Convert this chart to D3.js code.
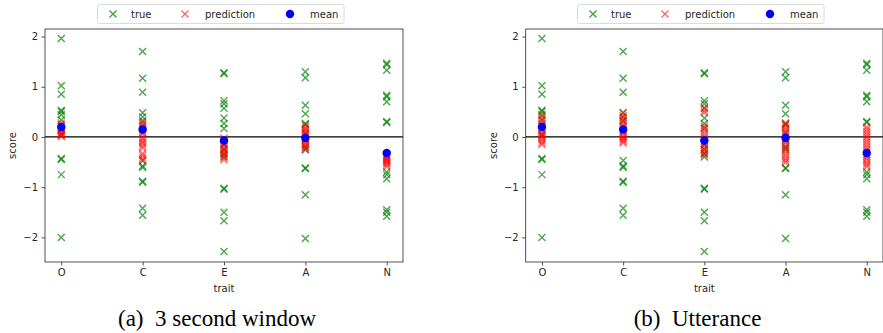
<!DOCTYPE html>
<html>
<head>
<meta charset="utf-8">
<script src="https://cdn.jsdelivr.net/npm/d3@7"></script>
<style>
  body { margin: 0; background: #fff; }
  svg { display: block; }
</style>
</head>
<body>
<svg id="chart" width="883" height="333"></svg>
<script>
// traits on the x axis
const traits = ["O", "C", "E", "A", "N"];
const yTicks = [-2, -1, 0, 1, 2];

// ground truth scores (same in both panels)
const trueO = [1.96, 1.02, 0.85, 0.53, 0.50, 0.44, 0.34, 0.05, -0.43, -0.45, -0.75, -2.0];
const trueC = [1.70, 1.17, 0.89, 0.48, 0.40, 0.33, -0.47, -0.58, -0.61, -0.88, -0.90, -1.42, -1.56];
const trueE = [1.28, 1.26, 0.72, 0.66, 0.57, 0.38, 0.27, 0.17, -0.15, -0.25, -0.33, -0.40, -1.02, -1.04, -1.50, -1.67, -2.28];
const trueA = [1.30, 1.18, 0.63, 0.46, 0.27, 0.25, 0.08, -0.05, -0.20, -0.25, -0.62, -0.63, -1.15, -2.02];
const trueN = [1.47, 1.44, 1.33, 0.83, 0.80, 0.70, 0.31, 0.29, -0.70, -0.75, -0.83, -1.45, -1.50, -1.58];

// (a) 3 second window predictions
const predWinO = [0.28, 0.25, 0.22, 0.19, 0.16, 0.14, 0.12, 0.10, 0.07, 0.05, 0.03, 0.01];
const predWinC = [0.30, 0.27, 0.24, 0.20, 0.16, 0.12, 0.08, 0.05, -0.02, -0.06, -0.10, -0.13, -0.18, -0.22, -0.33, -0.37, -0.42, -0.47];
const predWinE = [-0.02, -0.05, -0.08, -0.12, -0.15, -0.18, -0.22, -0.25, -0.28, -0.31, -0.35, -0.38, -0.42, -0.46];
const predWinA = [0.22, 0.18, 0.15, 0.12, 0.08, 0.05, 0.02, -0.02, -0.05, -0.08, -0.12, -0.15, -0.18, -0.22, -0.26];
const predWinN = [-0.36, -0.38, -0.40, -0.42, -0.44, -0.46, -0.48, -0.50, -0.53, -0.56, -0.60];

// (b) utterance predictions
const predUttO = [0.42, 0.38, 0.33, 0.28, 0.24, 0.20, 0.15, 0.12, 0.08, 0.05, 0.02, 0.00, -0.04, -0.08, -0.12, -0.15];
const predUttC = [0.48, 0.43, 0.38, 0.33, 0.30, 0.26, 0.22, 0.18, 0.12, 0.08, 0.03, 0.00, -0.03, -0.06, -0.09, -0.12];
const predUttE = [0.58, 0.52, 0.48, 0.22, 0.18, 0.12, 0.07, 0.02, -0.03, -0.08, -0.12, -0.17, -0.21, -0.25, -0.29, -0.33, -0.36];
const predUttA = [0.28, 0.23, 0.19, 0.14, 0.10, 0.05, 0.00, -0.05, -0.10, -0.15, -0.19, -0.23, -0.28, -0.33, -0.38, -0.43, -0.47, -0.51];
const predUttN = [0.20, 0.15, 0.10, 0.05, 0.00, -0.05, -0.10, -0.15, -0.20, -0.25, -0.30, -0.35, -0.39, -0.43, -0.47, -0.52, -0.56, -0.60];

// per-trait mean
const means = [0.20, 0.15, -0.07, -0.02, -0.32];

const trueAll = [trueO, trueC, trueE, trueA, trueN];
const predWin = [predWinO, predWinC, predWinE, predWinA, predWinN];
const predUtt = [predUttO, predUttC, predUttE, predUttA, predUttN];

const svg = d3.select("#chart");
const tickFont = "DejaVu Sans, sans-serif";

function flatten(groups) {
  const out = [];
  groups.forEach((g, i) => g.forEach(v => out.push({ i: i, v: v })));
  return out;
}

function crossPath(s) {
  return `M${-s},${-s}L${s},${s}M${-s},${s}L${s},${-s}`;
}

function drawPanel(left, right, preds, caption, captionX, legendX) {
  const top = 29, bottom = 262;
  const x = d3.scaleLinear().domain([-0.2, 4.2]).range([left, right]);
  const y = d3.scaleLinear().domain([-2.49, 2.15]).range([bottom, top]);

  const g = svg.append("g");

  // zero line
  g.append("line")
    .attr("x1", left).attr("x2", right)
    .attr("y1", y(0)).attr("y2", y(0))
    .attr("stroke", "#000").attr("stroke-width", 1.2);

  // true
  g.append("g").selectAll("path")
    .data(flatten(trueAll))
    .join("path")
    .attr("transform", d => `translate(${x(d.i)},${y(d.v)})`)
    .attr("d", crossPath(3.5))
    .attr("stroke", "green").attr("stroke-opacity", 0.7)
    .attr("stroke-width", 1.4).attr("fill", "none");

  // predictions
  g.append("g").selectAll("path")
    .data(flatten(preds))
    .join("path")
    .attr("transform", d => `translate(${x(d.i)},${y(d.v)})`)
    .attr("d", crossPath(3.5))
    .attr("stroke", "red").attr("stroke-opacity", 0.55)
    .attr("stroke-width", 1.4).attr("fill", "none");

  // means
  g.append("g").selectAll("circle")
    .data(means)
    .join("circle")
    .attr("cx", (d, i) => x(i)).attr("cy", d => y(d))
    .attr("r", 4.2).attr("fill", "blue");

  // axes
  const xAxis = g.append("g")
    .attr("transform", `translate(0,${bottom})`)
    .call(d3.axisBottom(x).tickValues(d3.range(traits.length)).tickFormat(i => traits[i]).tickSize(3.5).tickPadding(3.5));
  const yAxis = g.append("g")
    .attr("transform", `translate(${left},0)`)
    .call(d3.axisLeft(y).tickValues(yTicks).tickFormat(d => d < 0 ? "\u2212" + Math.abs(d) : d).tickSize(3.5).tickPadding(3.5));
  [xAxis, yAxis].forEach(a => {
    a.select(".domain").remove();
    a.selectAll("text").attr("font-family", tickFont).attr("font-size", 10).attr("fill", "#262626");
    a.selectAll("line").attr("stroke", "#262626").attr("stroke-width", 0.8);
  });

  // frame
  g.append("rect")
    .attr("x", left).attr("y", top)
    .attr("width", right - left).attr("height", bottom - top)
    .attr("fill", "none").attr("stroke", "#262626").attr("stroke-width", 0.8);

  // axis labels
  g.append("text")
    .attr("x", (left + right) / 2).attr("y", 292)
    .attr("text-anchor", "middle")
    .attr("font-family", tickFont).attr("font-size", 10).attr("fill", "#262626")
    .text("trait");
  g.append("text")
    .attr("transform", `translate(${left - 29},${(top + bottom) / 2}) rotate(-90)`)
    .attr("text-anchor", "middle")
    .attr("font-family", tickFont).attr("font-size", 10).attr("fill", "#262626")
    .text("score");

  // legend
  const lg = g.append("g").attr("transform", `translate(${legendX},4.5)`);
  lg.append("rect")
    .attr("width", 246.5).attr("height", 19).attr("rx", 2)
    .attr("fill", "#fff").attr("stroke", "#d0d0d0").attr("stroke-width", 0.8);
  const items = [
    { label: "true", color: "green", kind: "x", mx: 15.5, tx: 33.5 },
    { label: "prediction", color: "red", kind: "x", mx: 87.5, tx: 107.5 },
    { label: "mean", color: "blue", kind: "o", mx: 192.5, tx: 212.5 }
  ];
  items.forEach(it => {
    if (it.kind === "x") {
      lg.append("path")
        .attr("transform", `translate(${it.mx},9.5)`)
        .attr("d", crossPath(3.5))
        .attr("stroke", it.color).attr("stroke-opacity", it.color === "red" ? 0.6 : 0.75)
        .attr("stroke-width", 1.4).attr("fill", "none");
    } else {
      lg.append("circle").attr("cx", it.mx).attr("cy", 9.5).attr("r", 4.2).attr("fill", it.color);
    }
    lg.append("text")
      .attr("x", it.tx).attr("y", 13)
      .attr("font-family", tickFont).attr("font-size", 10).attr("fill", "#262626")
      .text(it.label);
  });

  // caption
  svg.append("text")
    .attr("x", captionX).attr("y", 326)
    .attr("text-anchor", "middle")
    .attr("xml:space", "preserve")
    .style("white-space", "pre")
    .attr("font-family", "Liberation Serif, Times New Roman, serif").attr("font-size", 23)
    .attr("fill", "#000")
    .text(caption);
}

drawPanel(45, 403, predWin, "(a)  3 second window", 217, 97.5);
drawPanel(525.7, 883, predUtt, "(b)  Utterance", 697.5, 577.5);
</script>
</body>
</html>
